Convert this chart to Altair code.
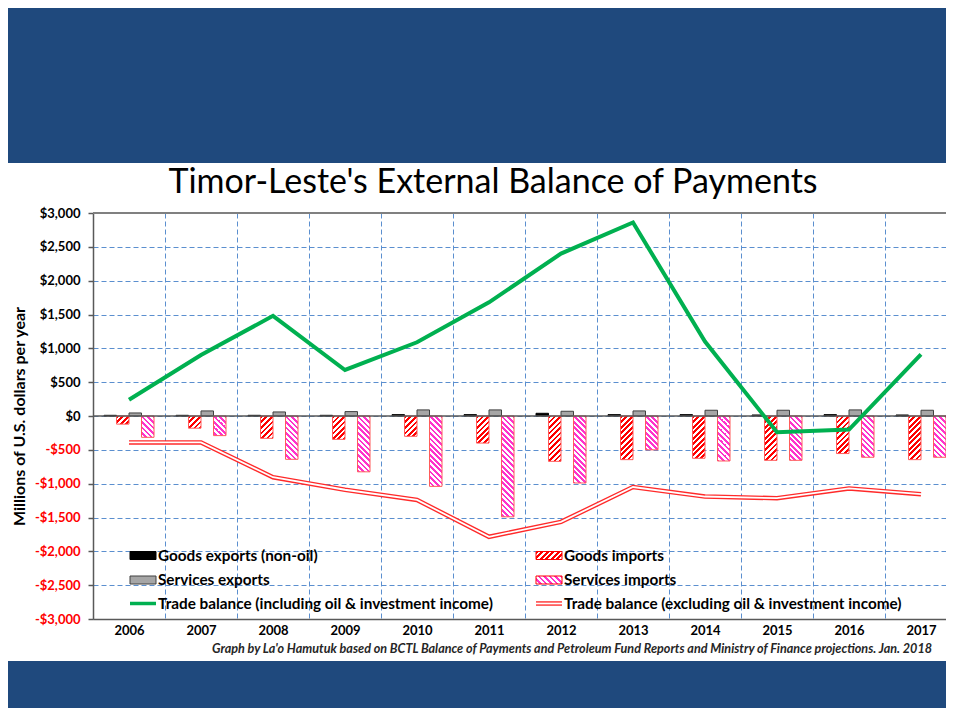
import altair as alt
import pandas as pd

# ---------------- data ----------------
years = ["2006", "2007", "2008", "2009", "2010", "2011",
         "2012", "2013", "2014", "2015", "2016", "2017"]
goods_exports = [10, 10, 10, 10, 20, 20, 40, 20, 20, 15, 20, 15]
services_exports = [45, 75, 60, 65, 90, 90, 70, 75, 85, 85, 90, 85]
goods_imports = [-120, -180, -330, -345, -300, -400, -670, -645, -625, -655, -555, -645]
services_imports = [-315, -290, -640, -825, -1040, -1490, -990, -500, -665, -655, -610, -610]
trade_incl = [240, 900, 1480, 680, 1090, 1680, 2400, 2860, 1100, -240, -200, 910]
trade_excl = [-390, -390, -905, -1090, -1240, -1785, -1565, -1050, -1190, -1215, -1070, -1155]
y_ticks = [-3000, -2500, -2000, -1500, -1000, -500, 0, 500, 1000, 1500, 2000, 2500, 3000]

series_names = ["Goods exports (non-oil)", "Goods imports",
                "Services exports", "Services imports"]
line_names = ["Trade balance (including oil & investment income)",
              "Trade balance (excluding oil & investment income)"]
TITLE = "Timor-Leste's External Balance of Payments"
Y_TITLE = "Millions of U.S. dollars per year"
SOURCE = ("Graph by La'o Hamutuk based on BCTL Balance of Payments and Petroleum Fund "
          "Reports and Ministry of Finance projections.  Jan. 2018")

# ---------------- styling / layout ----------------
FONT = "Lato"
NAVY = "#1F497D"
GRID = "#5B8FCF"
AXIS_C = "#595959"
RED = "#FF0000"
MAGENTA = "#FF33CC"
HATCH_EDGE = "#FF5B5B"
GREEN = "#00B050"
GRAY = "#A6A6A6"

W_PLOT, H_PLOT = 853, 406
X_RANGE = 864
OFF_PAD = 0.88
PX_PER_UNIT = H_PLOT / 6000.0
BAR_W = X_RANGE / len(years) / (4 + 2 * OFF_PAD)

bars_df = pd.DataFrame({
    "year": years * 4,
    "series": sum([[s] * len(years) for s in series_names], []),
    "value": goods_exports + goods_imports + services_exports + services_imports,
})
lines_df = pd.DataFrame({"year": years, "incl": trade_incl, "excl": trade_excl})
one = pd.DataFrame({"k": [0]})
zero_df = pd.DataFrame({"value": [0]})

x_scale = alt.Scale(domain=years, range=[0, X_RANGE], paddingInner=0, paddingOuter=0)
y_scale = alt.Scale(domain=[-3000, 3000], nice=False)
xo_scale = alt.Scale(domain=series_names, paddingOuter=OFF_PAD, paddingInner=0)

x_axis = alt.Axis(
    tickBand="extent", grid=True, gridDash=[5, 3], gridColor=GRID, gridWidth=1,
    ticks=False, labelFont=FONT, labelFontWeight="bold", labelFontSize=13,
    labelColor="#000000", labelPadding=5, labelAngle=0,
    domainColor=AXIS_C, domainWidth=1.5)
y_axis = alt.Axis(
    values=y_ticks,
    labelExpr="(datum.value < 0 ? '-' : '') + '$' + format(abs(datum.value), ',')",
    labelColor={"condition": {"test": "datum.value < 0", "value": RED}, "value": "#000000"},
    labelFont=FONT, labelFontWeight="bold", labelFontSize=13, labelPadding=8,
    grid=True, gridDash=[5, 3], gridColor=GRID, gridWidth=1,
    tickSize=5, tickColor=AXIS_C, tickWidth=1.5,
    domainColor=AXIS_C, domainWidth=1.5,
    titleX=-74, titleY=H_PLOT / 2, titleAngle=270,
    titleAlign="center", titleBaseline="middle", titleFont=FONT,
    titleFontSize=16, titleFontWeight="bold", titleColor="#000000")


def X():
    return alt.X("year:N", scale=x_scale, title=None, axis=x_axis)


def Y(field):
    return alt.Y(field + ":Q", scale=y_scale, title=Y_TITLE, axis=y_axis)


def hatch(w, h, color, direction, period=5.5, frac=0.5):
    L = w + h
    c = L / (w * w + h * h)
    if direction == "/":
        x1, y1, x2, y2 = 0, 0, c * w, c * h
    else:
        x1, y1, x2, y2 = 1, 0, 1 - c * w, c * h
    stops = []
    k = 0
    while k * period < L:
        a = k * period / L
        m = min((k * period + period * frac) / L, 1.0)
        e = min((k + 1) * period / L, 1.0)
        stops += [(a, color), (m, color), (m, "#FFFFFF"), (e, "#FFFFFF")]
        k += 1
    return {"gradient": "linear", "x1": x1, "y1": y1, "x2": x2, "y2": y2,
            "stops": [{"offset": round(o, 5), "color": col} for o, col in stops]}


layers = []

# solid export bars
layers.append(alt.Chart(bars_df).transform_filter(
    alt.FieldOneOfPredicate(field="series", oneOf=[series_names[0], series_names[2]])
).mark_bar(strokeWidth=1).encode(
    x=X(), y=Y("value"),
    xOffset=alt.XOffset("series:N", scale=xo_scale),
    fill=alt.Fill("series:N", scale=alt.Scale(domain=[series_names[0], series_names[2]],
                                              range=["#000000", GRAY]), legend=None),
    stroke=alt.Stroke("series:N", scale=alt.Scale(domain=[series_names[0], series_names[2]],
                                                  range=["#000000", "#404040"]), legend=None),
))

# slide background strips (decoration, outside the plot area)
layers.append(alt.Chart(one).mark_rect(color=NAVY).encode(
    x=alt.value(-85), x2=alt.value(W_PLOT), y=alt.value(-205), y2=alt.value(-50)))
layers.append(alt.Chart(one).mark_rect(color=NAVY).encode(
    x=alt.value(-85), x2=alt.value(W_PLOT), y=alt.value(448), y2=alt.value(495)))

# hatched import bars, one layer per bar so each gets its own hatch
for series, vals, col, direc in [(series_names[1], goods_imports, RED, "/"),
                                 (series_names[3], services_imports, MAGENTA, "\\")]:
    for yr, v in zip(years, vals):
        h = abs(v) * PX_PER_UNIT
        layers.append(
            alt.Chart(bars_df).transform_filter(
                (alt.datum.year == yr) & (alt.datum.series == series)
            ).mark_bar(fill=hatch(BAR_W, h, col, direc), stroke=HATCH_EDGE, strokeWidth=1).encode(
                x=X(), y=Y("value"),
                xOffset=alt.XOffset("series:N", scale=xo_scale),
            )
        )

# zero line and top border
layers.append(alt.Chart(zero_df).mark_rule(color=AXIS_C, strokeWidth=1.5).encode(y=Y("value")))
layers.append(alt.Chart(one).mark_rule(color="#808080", strokeWidth=2).encode(y=alt.value(0)))

# trade balance lines
layers.append(alt.Chart(lines_df).mark_line(color=GREEN, strokeWidth=4).encode(
    x=X(), y=Y("incl")))
layers.append(alt.Chart(lines_df).mark_line(color="#FF2A2A", strokeWidth=4.5).encode(
    x=X(), y=Y("excl")))
layers.append(alt.Chart(lines_df).mark_line(color="#FFFFFF", strokeWidth=1.8).encode(
    x=X(), y=Y("excl")))

# legend (manual, two columns)
LEG_X = [37, 443]
LEG_Y = [342.5, 367, 390.5]
SYM_W = 26
legend_items = [
    (series_names[0], 0, 0, "black"), (series_names[1], 1, 0, "hred"),
    (series_names[2], 0, 1, "gray"), (series_names[3], 1, 1, "hmag"),
    (line_names[0], 0, 2, "green"), (line_names[1], 1, 2, "dred"),
]
for label, c, r, kind in legend_items:
    x0, yc = LEG_X[c], LEG_Y[r]
    if kind in ("black", "gray", "hred", "hmag"):
        if kind == "black":
            fill, stroke = "#000000", "#000000"
        elif kind == "gray":
            fill, stroke = GRAY, "#404040"
        elif kind == "hred":
            fill, stroke = hatch(SYM_W, 8, RED, "/", period=5.5), RED
        else:
            fill, stroke = hatch(SYM_W, 8, MAGENTA, "\\", period=5.5), RED
        layers.append(alt.Chart(one).mark_rect(fill=fill, stroke=stroke, strokeWidth=1).encode(
            x=alt.value(x0), x2=alt.value(x0 + SYM_W),
            y=alt.value(yc - 4), y2=alt.value(yc + 4)))
    elif kind == "green":
        layers.append(alt.Chart(one).mark_rule(color=GREEN, strokeWidth=3.5).encode(
            x=alt.value(x0), x2=alt.value(x0 + SYM_W), y=alt.value(yc)))
    else:
        layers.append(alt.Chart(one).mark_rule(color="#FF2A2A", strokeWidth=4.5).encode(
            x=alt.value(x0), x2=alt.value(x0 + SYM_W), y=alt.value(yc)))
        layers.append(alt.Chart(one).mark_rule(color="#FFFFFF", strokeWidth=1.8).encode(
            x=alt.value(x0), x2=alt.value(x0 + SYM_W), y=alt.value(yc)))
    layers.append(alt.Chart(one).mark_text(
        text=label, align="left", baseline="middle", font=FONT, fontSize=15.3,
        fontWeight="bold", color="#000000").encode(
        x=alt.value(x0 + SYM_W + 2), y=alt.value(yc)))

# title and source note
layers.append(alt.Chart(one).mark_text(
    text=TITLE, align="center", baseline="middle", font=FONT, fontSize=34,
    color="#000000").encode(x=alt.value(400), y=alt.value(-30)))
layers.append(alt.Chart(one).mark_text(
    text=SOURCE, align="left", baseline="middle", font=FONT, fontSize=12.6,
    fontStyle="italic", fontWeight="bold", color="#262626").encode(
    x=alt.value(119), y=alt.value(436)))

chart = alt.layer(*layers).properties(
    width=W_PLOT, height=H_PLOT,
    padding={"left": 85, "top": 205, "right": 0, "bottom": 89},
    autosize=alt.AutoSizeParams(type="none"),
    background="#FFFFFF",
).configure_view(stroke=None)

chart.save("out.html", embed_options={"renderer": "svg", "actions": False})
